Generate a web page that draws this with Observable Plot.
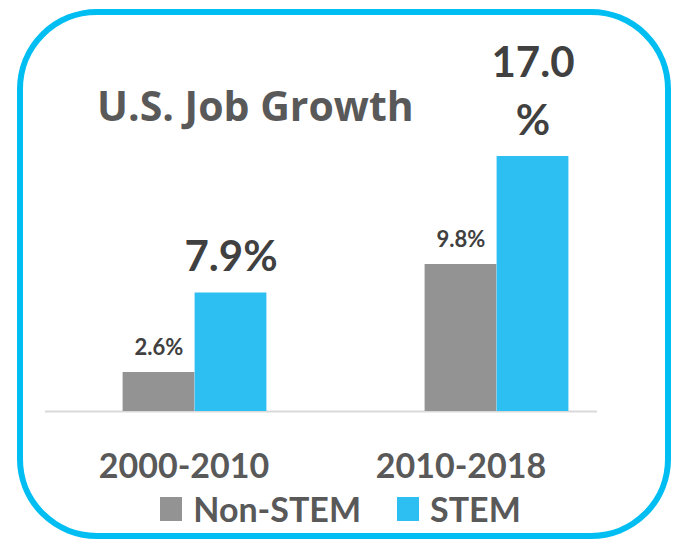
<!DOCTYPE html>
<html>
<head>
<meta charset="utf-8">
<script src="https://cdn.jsdelivr.net/npm/d3@7"></script>
<script src="https://cdn.jsdelivr.net/npm/@observablehq/plot@0.6"></script>
<style>
  html, body { margin: 0; padding: 0; background: #fff; }
  #wrap { position: relative; width: 675px; height: 540px; overflow: hidden; font-family: Lato, "Open Sans", sans-serif; }
  #border { position: absolute; left: 17px; top: 9px; width: 654px; height: 530px; box-sizing: border-box;
            border: 6px solid #00BEF2; border-radius: 80px; pointer-events: none; }
  #title { position: absolute; left: 97px; top: 85px; font-family: "Open Sans", Lato, sans-serif; font-size: 41px; font-weight: bold; color: #595959; line-height: 1; white-space: nowrap; }
  #chart { position: absolute; left: 0; top: 0; }
  #legend { position: absolute; left: 3px; top: 492px; width: 675px; display: flex; justify-content: center; align-items: center;
            font-size: 34px; font-weight: bold; color: #595959; line-height: 1; }
  .item { display: flex; align-items: center; margin: 0 18px; }
  .sw { width: 22px; height: 24px; margin-right: 11px; }
</style>
</head>
<body>
<div id="wrap">
  <div id="chart"></div>
  <div id="title">U.S. Job Growth</div>
  <div id="legend"></div>
  <div id="border"></div>
</div>
<script>
const periods = ["2000-2010", "2010-2018"];
const seriesNames = ["Non-STEM", "STEM"];
const nonStemValues = [2.6, 9.8];
const stemValues = [7.9, 17.0];
const nonStemLabels = ["2.6%", "9.8%"];
const stemLabels = ["7.9%", "17.0\n%"];
const seriesColors = ["#939393", "#2DBFF2"];

const nonStemRows = periods.map((p, i) => ({period: p, value: nonStemValues[i], label: nonStemLabels[i]}));
const stemRows = periods.map((p, i) => ({period: p, value: stemValues[i], label: stemLabels[i]}));

const tickStyle = {frameAnchor: "bottom", lineAnchor: "middle", dy: 56, fontSize: 34, fontWeight: "bold", fill: "#595959"};

const chart = Plot.plot({
  width: 675,
  height: 490,
  marginLeft: 45,
  marginRight: 78,
  marginTop: 111,
  marginBottom: 79,
  style: {fontFamily: "Lato, 'Open Sans', sans-serif", background: "transparent", overflow: "visible"},
  x: {domain: periods, range: [118, 572], paddingInner: 0.5, paddingOuter: 0, axis: null},
  y: {domain: [0, 20], axis: null},
  marks: [
    Plot.ruleY([0], {stroke: "#d9d9d9", strokeWidth: 2}),
    Plot.barY(nonStemRows, {x: "period", y: "value", fill: seriesColors[0], insetLeft: 3.6, insetRight: 75.6}),
    Plot.barY(stemRows, {x: "period", y: "value", fill: seriesColors[1], insetLeft: 75.6, insetRight: 3.6}),
    Plot.text(nonStemRows, {x: "period", y: "value", text: "label", dx: -36, dy: -18, lineAnchor: "bottom",
      fontSize: 22, fontWeight: "bold", fill: "#404040"}),
    Plot.text(stemRows, {x: "period", y: "value", text: "label", dx: 36, dy: -22, lineAnchor: "bottom",
      fontSize: 42, fontWeight: "bold", fill: "#404040", lineHeight: 1.36}),
    Plot.text([periods[0]], {x: d => d, text: d => d, dx: -11, ...tickStyle}),
    Plot.text([periods[1]], {x: d => d, text: d => d, dx: -36, ...tickStyle})
  ]
});
document.getElementById("chart").appendChild(chart);

const legend = document.getElementById("legend");
seriesNames.forEach((name, i) => {
  const item = document.createElement("div");
  item.className = "item";
  const sw = document.createElement("div");
  sw.className = "sw";
  sw.style.background = seriesColors[i];
  const t = document.createElement("span");
  t.textContent = name;
  item.appendChild(sw);
  item.appendChild(t);
  legend.appendChild(item);
});
</script>
</body>
</html>
